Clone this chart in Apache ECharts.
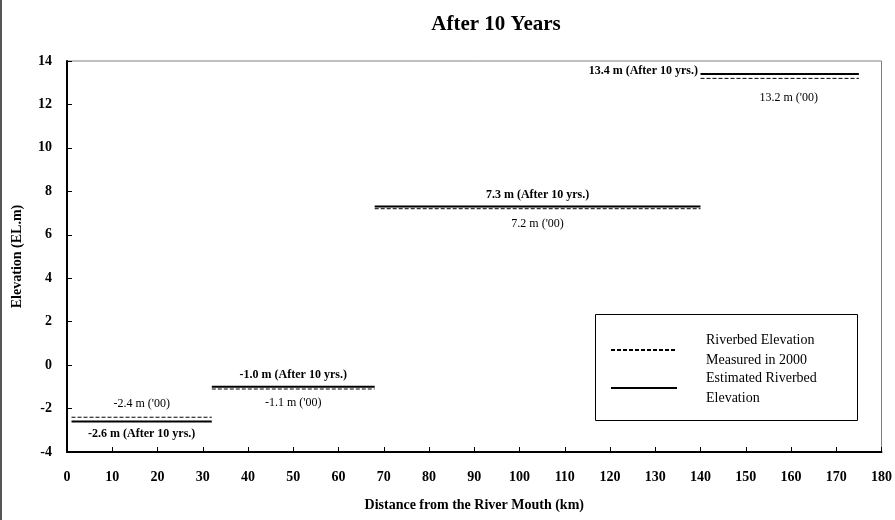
<!DOCTYPE html>
<html>
<head>
<meta charset="utf-8">
<script src="https://cdn.jsdelivr.net/npm/echarts@6/dist/echarts.min.js"></script>
<style>
  html, body { margin: 0; padding: 0; background: #fff; }
  #chart { width: 895px; height: 520px; }
</style>
</head>
<body>
<div id="chart"></div>
<script>
// River reaches along the channel (km from the mouth)
const reachStart = [1, 32, 68, 140];
const reachEnd = [32, 68, 140, 175];
// Riverbed elevation per reach (EL.m)
const measured2000 = [-2.4, -1.1, 7.2, 13.2];
const after10Years = [-2.6, -1.0, 7.3, 13.4];

const NAME_MEASURED = 'Riverbed Elevation\nMeasured in 2000';
const NAME_ESTIMATED = 'Estimated Riverbed\nElevation';
const FONT = '"Liberation Serif", "Times New Roman", serif';

// label placement per reach: [dx, dy] offsets from the reach midpoint
const measuredLabelOffset = [[0, -13], [0, 14], [0, 15], [9, 19]];
const estimatedLabelOffset = [[0, 12], [0, -12], [0, -12], null];

const series = [];
reachStart.forEach((s, i) => {
  const e = reachEnd[i];
  const mid = (s + e) / 2;
  const m = measured2000[i];
  const a = after10Years[i];

  series.push({
    name: NAME_MEASURED,
    type: 'line',
    symbol: 'none',
    silent: true,
    z: 2,
    lineStyle: { color: '#000', width: 1, type: [4, 2] },
    itemStyle: { color: '#000' },
    data: [[s, m], [e, m]],
    markPoint: {
      symbol: 'circle',
      symbolSize: 1,
      itemStyle: { color: 'rgba(0,0,0,0)' },
      label: {
        show: true,
        position: 'inside',
        offset: measuredLabelOffset[i],
        fontFamily: FONT,
        fontSize: 12,
        color: '#000',
        formatter: () => m.toFixed(1) + " m ('00)"
      },
      data: [{ coord: [mid, m] }]
    }
  });

  const estLabel = estimatedLabelOffset[i]
    ? {
        show: true,
        position: 'inside',
        offset: estimatedLabelOffset[i],
        fontFamily: FONT,
        fontSize: 12,
        fontWeight: 'bold',
        color: '#000',
        formatter: () => a.toFixed(1) + ' m (After 10 yrs.)'
      }
    : {
        show: true,
        position: 'left',
        distance: 2,
        offset: [0, -3],
        fontFamily: FONT,
        fontSize: 12,
        fontWeight: 'bold',
        color: '#000',
        formatter: () => a.toFixed(1) + ' m (After 10 yrs.)'
      };

  series.push({
    name: NAME_ESTIMATED,
    type: 'line',
    symbol: 'none',
    silent: true,
    z: 3,
    lineStyle: { color: '#000', width: 2, type: 'solid' },
    itemStyle: { color: '#000' },
    data: [[s, a], [e, a]],
    markPoint: {
      symbol: 'circle',
      symbolSize: 1,
      itemStyle: { color: 'rgba(0,0,0,0)' },
      label: estLabel,
      data: [{ coord: [estimatedLabelOffset[i] ? mid : s, a] }]
    }
  });
});

const chart = echarts.init(document.getElementById('chart'), null, { renderer: 'canvas' });
chart.setOption({
  animation: false,
  backgroundColor: '#fff',
  textStyle: { fontFamily: FONT },
  title: {
    text: 'After 10 Years',
    left: 491,
    top: 9,
    textAlign: 'center',
    textStyle: { fontFamily: FONT, fontSize: 21, fontWeight: 'bold', color: '#000' }
  },
  grid: {
    left: 67, right: 12, top: 61, bottom: 68,
    show: true,
    borderColor: '#808080',
    borderWidth: 1,
    backgroundColor: 'transparent'
  },
  legend: {
    orient: 'vertical',
    left: 610,
    top: 330,
    padding: 0,
    itemWidth: 66,
    itemHeight: 14,
    itemGap: -2,
    selectedMode: false,
    itemStyle: { opacity: 0 },
    data: [NAME_MEASURED, NAME_ESTIMATED],
    textStyle: {
      fontFamily: FONT,
      fontSize: 14,
      lineHeight: 20,
      color: '#000',
      padding: [0, 0, 0, 24]
    }
  },
  graphic: [
    {
      type: 'rect',
      shape: { x: 595.5, y: 314.5, width: 262, height: 106 },
      style: { fill: '#fff', stroke: '#000', lineWidth: 1 },
      z: -1
    },
    {
      type: 'line',
      shape: { x1: 1, y1: 0, x2: 1, y2: 520 },
      style: { stroke: '#555', lineWidth: 2 }
    }
  ],
  xAxis: {
    type: 'value',
    min: 0,
    max: 180,
    interval: 10,
    name: 'Distance from the River Mouth (km)',
    nameLocation: 'middle',
    nameGap: 46,
    nameTextStyle: { fontFamily: FONT, fontSize: 14, fontWeight: 'bold', color: '#000' },
    splitLine: { show: false },
    axisLine: { onZero: false, lineStyle: { color: '#000', width: 2 } },
    axisTick: { inside: true, length: 5, lineStyle: { color: '#000', width: 1 } },
    axisLabel: { margin: 18, fontFamily: FONT, fontSize: 14, fontWeight: 'bold', color: '#000' }
  },
  yAxis: {
    type: 'value',
    min: -4,
    max: 14,
    interval: 2,
    name: 'Elevation (EL.m)',
    nameLocation: 'middle',
    nameGap: 43,
    nameTextStyle: { fontFamily: FONT, fontSize: 14, fontWeight: 'bold', color: '#000' },
    splitLine: { show: false },
    axisLine: { show: true, onZero: false, lineStyle: { color: '#000', width: 2 } },
    axisTick: { show: true, inside: true, length: 5, lineStyle: { color: '#000', width: 1 } },
    axisLabel: { margin: 15, fontFamily: FONT, fontSize: 14, fontWeight: 'bold', color: '#000' }
  },
  series: series
});
</script>
</body>
</html>
